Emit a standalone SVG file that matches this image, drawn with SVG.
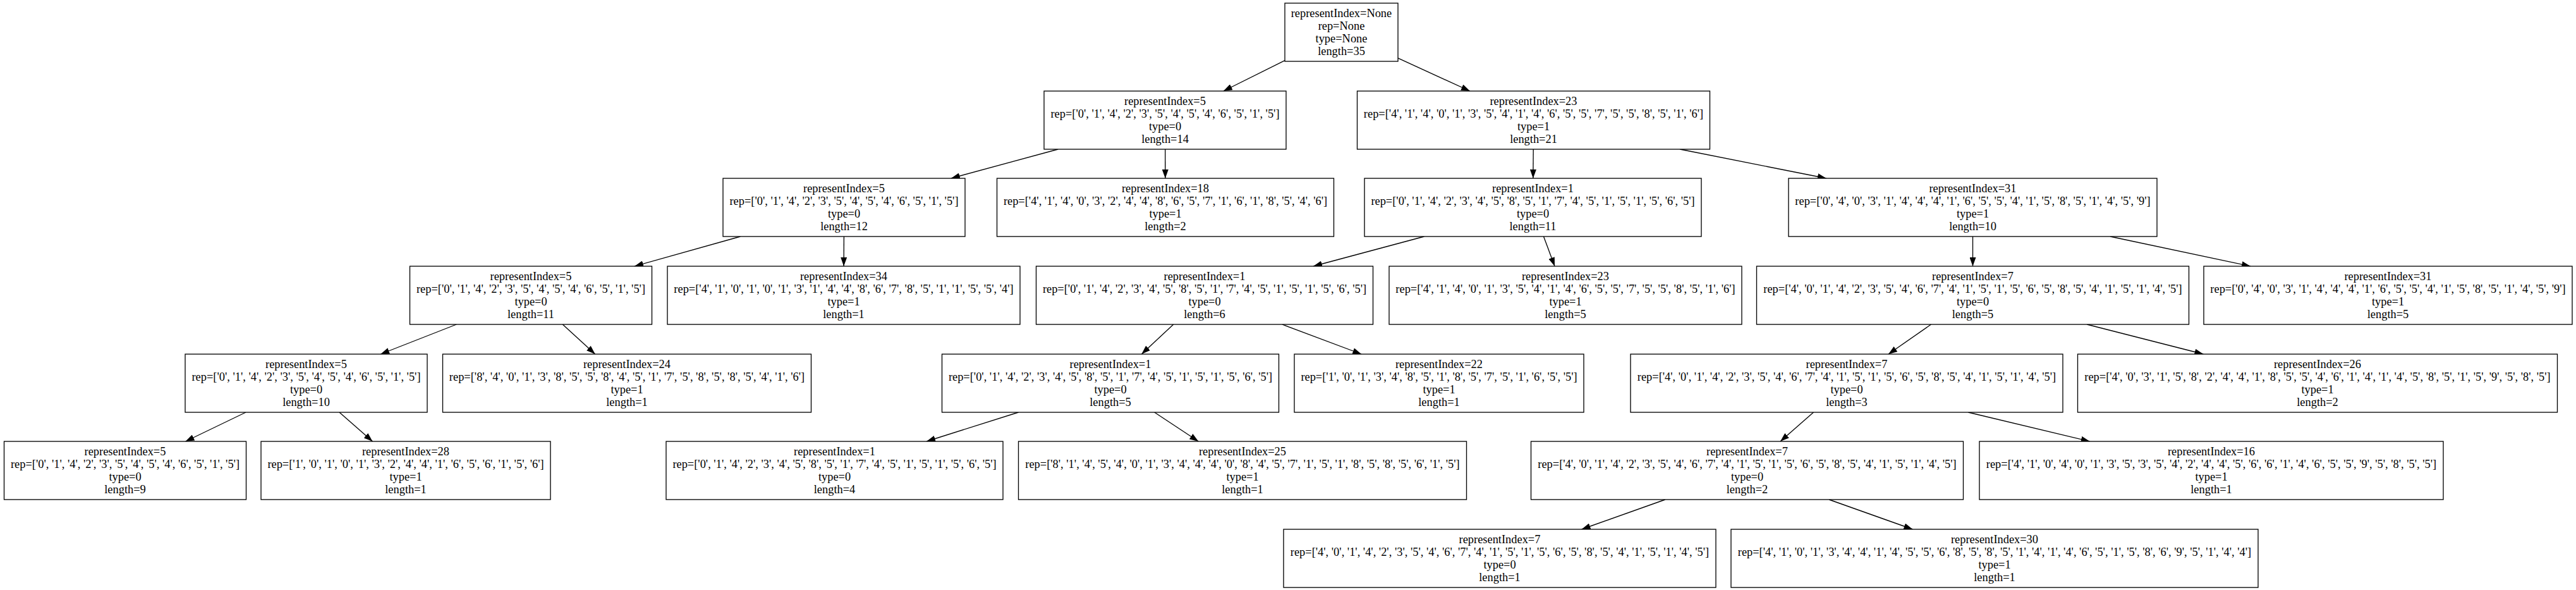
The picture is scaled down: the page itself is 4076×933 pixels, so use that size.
<svg xmlns="http://www.w3.org/2000/svg" width="4076" height="933" viewBox="0 0 4076 933">
<style>
.n rect{fill:#fff;stroke:#000;stroke-width:1.33}
text{font-family:"Liberation Serif","Times New Roman",serif;font-size:18.4px;text-anchor:middle;fill:#000}
.e line{stroke:#000;stroke-width:1.33;marker-end:url(#arr)}
</style>
<defs>
<marker id="arr" viewBox="0 0 14 10" refX="14" refY="5" markerWidth="14" markerHeight="10" markerUnits="userSpaceOnUse" orient="auto"><path d="M0,0 L14,5 L0,10 z" fill="#000"/></marker>
</defs>
<rect x="0" y="0" width="4076" height="933" fill="#fff"/>
<g id="edges" class="e">
<line x1="2033" y1="95.6" x2="1935.8" y2="144"/>
<line x1="2212" y1="91.9" x2="2325.9" y2="144"/>
<line x1="1674.2" y1="236" x2="1504.8" y2="282"/>
<line x1="1843.7" y1="236" x2="1843.8" y2="282"/>
<line x1="2426.2" y1="236" x2="2425.8" y2="282"/>
<line x1="2658.2" y1="236" x2="2889.8" y2="282"/>
<line x1="1171.5" y1="374" x2="1004" y2="421"/>
<line x1="1335.4" y1="374" x2="1335.1" y2="421"/>
<line x1="2253.5" y1="374" x2="2078" y2="421"/>
<line x1="2442.5" y1="374" x2="2460" y2="421"/>
<line x1="3121.5" y1="374" x2="3121.5" y2="421"/>
<line x1="3339" y1="374" x2="3561" y2="421"/>
<line x1="722.3" y1="513" x2="602.2" y2="560"/>
<line x1="890.3" y1="513" x2="941.7" y2="560"/>
<line x1="1856.7" y1="513" x2="1806.3" y2="560"/>
<line x1="2028.8" y1="513" x2="2154.2" y2="560"/>
<line x1="3055.5" y1="513" x2="2988" y2="560"/>
<line x1="3302.1" y1="513" x2="3486.4" y2="560"/>
<line x1="389" y1="652" x2="293.5" y2="698"/>
<line x1="537" y1="652" x2="589.5" y2="698"/>
<line x1="1611.5" y1="652" x2="1466" y2="698"/>
<line x1="1826.7" y1="652" x2="1896.3" y2="698"/>
<line x1="2869.5" y1="652" x2="2817" y2="698"/>
<line x1="3114.3" y1="652" x2="3306.7" y2="698"/>
<line x1="2634.9" y1="790" x2="2502.6" y2="837"/>
<line x1="2894.1" y1="790" x2="3026.4" y2="837"/>
</g>
<g id="n0" class="n"><rect x="2033" y="5" width="179" height="92"/><text x="2122.5" y="26.5">representIndex=None</text><text x="2122.5" y="46.5">rep=None</text><text x="2122.5" y="66.5">type=None</text><text x="2122.5" y="86.5">length=35</text></g>
<g id="n1" class="n"><rect x="1652" y="144" width="383" height="92"/><text x="1843.5" y="165.5">representIndex=5</text><text x="1843.5" y="185.5">rep=['0', '1', '4', '2', '3', '5', '4', '5', '4', '6', '5', '1', '5']</text><text x="1843.5" y="205.5">type=0</text><text x="1843.5" y="225.5">length=14</text></g>
<g id="n2" class="n"><rect x="2147.5" y="144" width="558" height="92"/><text x="2426.5" y="165.5">representIndex=23</text><text x="2426.5" y="185.5">rep=['4', '1', '4', '0', '1', '3', '5', '4', '1', '4', '6', '5', '5', '7', '5', '5', '8', '5', '1', '6']</text><text x="2426.5" y="205.5">type=1</text><text x="2426.5" y="225.5">length=21</text></g>
<g id="n3" class="n"><rect x="1144" y="282" width="383" height="92"/><text x="1335.5" y="303.5">representIndex=5</text><text x="1335.5" y="323.5">rep=['0', '1', '4', '2', '3', '5', '4', '5', '4', '6', '5', '1', '5']</text><text x="1335.5" y="343.5">type=0</text><text x="1335.5" y="363.5">length=12</text></g>
<g id="n4" class="n"><rect x="1577.5" y="282" width="533" height="92"/><text x="1844" y="303.5">representIndex=18</text><text x="1844" y="323.5">rep=['4', '1', '4', '0', '3', '2', '4', '4', '8', '6', '5', '7', '1', '6', '1', '8', '5', '4', '6']</text><text x="1844" y="343.5">type=1</text><text x="1844" y="363.5">length=2</text></g>
<g id="n5" class="n"><rect x="2159" y="282" width="533" height="92"/><text x="2425.5" y="303.5">representIndex=1</text><text x="2425.5" y="323.5">rep=['0', '1', '4', '2', '3', '4', '5', '8', '5', '1', '7', '4', '5', '1', '5', '1', '5', '6', '5']</text><text x="2425.5" y="343.5">type=0</text><text x="2425.5" y="363.5">length=11</text></g>
<g id="n6" class="n"><rect x="2830" y="282" width="583" height="92"/><text x="3121.5" y="303.5">representIndex=31</text><text x="3121.5" y="323.5">rep=['0', '4', '0', '3', '1', '4', '4', '4', '1', '6', '5', '5', '4', '1', '5', '8', '5', '1', '4', '5', '9']</text><text x="3121.5" y="343.5">type=1</text><text x="3121.5" y="363.5">length=10</text></g>
<g id="n7" class="n"><rect x="648.5" y="421" width="383" height="92"/><text x="840" y="442.5">representIndex=5</text><text x="840" y="462.5">rep=['0', '1', '4', '2', '3', '5', '4', '5', '4', '6', '5', '1', '5']</text><text x="840" y="482.5">type=0</text><text x="840" y="502.5">length=11</text></g>
<g id="n8" class="n"><rect x="1056" y="421" width="558" height="92"/><text x="1335" y="442.5">representIndex=34</text><text x="1335" y="462.5">rep=['4', '1', '0', '1', '0', '1', '3', '1', '4', '4', '8', '6', '7', '8', '5', '1', '1', '5', '5', '4']</text><text x="1335" y="482.5">type=1</text><text x="1335" y="502.5">length=1</text></g>
<g id="n9" class="n"><rect x="1639.5" y="421" width="533" height="92"/><text x="1906" y="442.5">representIndex=1</text><text x="1906" y="462.5">rep=['0', '1', '4', '2', '3', '4', '5', '8', '5', '1', '7', '4', '5', '1', '5', '1', '5', '6', '5']</text><text x="1906" y="482.5">type=0</text><text x="1906" y="502.5">length=6</text></g>
<g id="n10" class="n"><rect x="2198" y="421" width="558" height="92"/><text x="2477" y="442.5">representIndex=23</text><text x="2477" y="462.5">rep=['4', '1', '4', '0', '1', '3', '5', '4', '1', '4', '6', '5', '5', '7', '5', '5', '8', '5', '1', '6']</text><text x="2477" y="482.5">type=1</text><text x="2477" y="502.5">length=5</text></g>
<g id="n11" class="n"><rect x="2779.5" y="421" width="684" height="92"/><text x="3121.5" y="442.5">representIndex=7</text><text x="3121.5" y="462.5">rep=['4', '0', '1', '4', '2', '3', '5', '4', '6', '7', '4', '1', '5', '1', '5', '6', '5', '8', '5', '4', '1', '5', '1', '4', '5']</text><text x="3121.5" y="482.5">type=0</text><text x="3121.5" y="502.5">length=5</text></g>
<g id="n12" class="n"><rect x="3487" y="421" width="583" height="92"/><text x="3778.5" y="442.5">representIndex=31</text><text x="3778.5" y="462.5">rep=['0', '4', '0', '3', '1', '4', '4', '4', '1', '6', '5', '5', '4', '1', '5', '8', '5', '1', '4', '5', '9']</text><text x="3778.5" y="482.5">type=1</text><text x="3778.5" y="502.5">length=5</text></g>
<g id="n13" class="n"><rect x="293" y="560" width="383" height="92"/><text x="484.5" y="581.5">representIndex=5</text><text x="484.5" y="601.5">rep=['0', '1', '4', '2', '3', '5', '4', '5', '4', '6', '5', '1', '5']</text><text x="484.5" y="621.5">type=0</text><text x="484.5" y="641.5">length=10</text></g>
<g id="n14" class="n"><rect x="700.5" y="560" width="583" height="92"/><text x="992" y="581.5">representIndex=24</text><text x="992" y="601.5">rep=['8', '4', '0', '1', '3', '8', '5', '5', '8', '4', '5', '1', '7', '5', '8', '5', '8', '5', '4', '1', '6']</text><text x="992" y="621.5">type=1</text><text x="992" y="641.5">length=1</text></g>
<g id="n15" class="n"><rect x="1490.5" y="560" width="533" height="92"/><text x="1757" y="581.5">representIndex=1</text><text x="1757" y="601.5">rep=['0', '1', '4', '2', '3', '4', '5', '8', '5', '1', '7', '4', '5', '1', '5', '1', '5', '6', '5']</text><text x="1757" y="621.5">type=0</text><text x="1757" y="641.5">length=5</text></g>
<g id="n16" class="n"><rect x="2048" y="560" width="458" height="92"/><text x="2277" y="581.5">representIndex=22</text><text x="2277" y="601.5">rep=['1', '0', '1', '3', '4', '8', '5', '1', '8', '5', '7', '5', '1', '6', '5', '5']</text><text x="2277" y="621.5">type=1</text><text x="2277" y="641.5">length=1</text></g>
<g id="n17" class="n"><rect x="2580" y="560" width="684" height="92"/><text x="2922" y="581.5">representIndex=7</text><text x="2922" y="601.5">rep=['4', '0', '1', '4', '2', '3', '5', '4', '6', '7', '4', '1', '5', '1', '5', '6', '5', '8', '5', '4', '1', '5', '1', '4', '5']</text><text x="2922" y="621.5">type=0</text><text x="2922" y="641.5">length=3</text></g>
<g id="n18" class="n"><rect x="3287.5" y="560" width="759" height="92"/><text x="3667" y="581.5">representIndex=26</text><text x="3667" y="601.5">rep=['4', '0', '3', '1', '5', '8', '2', '4', '4', '1', '8', '5', '5', '4', '6', '1', '4', '1', '4', '5', '8', '5', '1', '5', '9', '5', '8', '5']</text><text x="3667" y="621.5">type=1</text><text x="3667" y="641.5">length=2</text></g>
<g id="n19" class="n"><rect x="6.5" y="698" width="383" height="92"/><text x="198" y="719.5">representIndex=5</text><text x="198" y="739.5">rep=['0', '1', '4', '2', '3', '5', '4', '5', '4', '6', '5', '1', '5']</text><text x="198" y="759.5">type=0</text><text x="198" y="779.5">length=9</text></g>
<g id="n20" class="n"><rect x="413" y="698" width="458" height="92"/><text x="642" y="719.5">representIndex=28</text><text x="642" y="739.5">rep=['1', '0', '1', '0', '1', '3', '2', '4', '4', '1', '6', '5', '6', '1', '5', '6']</text><text x="642" y="759.5">type=1</text><text x="642" y="779.5">length=1</text></g>
<g id="n21" class="n"><rect x="1054" y="698" width="533" height="92"/><text x="1320.5" y="719.5">representIndex=1</text><text x="1320.5" y="739.5">rep=['0', '1', '4', '2', '3', '4', '5', '8', '5', '1', '7', '4', '5', '1', '5', '1', '5', '6', '5']</text><text x="1320.5" y="759.5">type=0</text><text x="1320.5" y="779.5">length=4</text></g>
<g id="n22" class="n"><rect x="1611.5" y="698" width="709" height="92"/><text x="1966" y="719.5">representIndex=25</text><text x="1966" y="739.5">rep=['8', '1', '4', '5', '4', '0', '1', '3', '4', '4', '4', '0', '8', '4', '5', '7', '1', '5', '1', '8', '5', '8', '5', '6', '1', '5']</text><text x="1966" y="759.5">type=1</text><text x="1966" y="779.5">length=1</text></g>
<g id="n23" class="n"><rect x="2422.5" y="698" width="684" height="92"/><text x="2764.5" y="719.5">representIndex=7</text><text x="2764.5" y="739.5">rep=['4', '0', '1', '4', '2', '3', '5', '4', '6', '7', '4', '1', '5', '1', '5', '6', '5', '8', '5', '4', '1', '5', '1', '4', '5']</text><text x="2764.5" y="759.5">type=0</text><text x="2764.5" y="779.5">length=2</text></g>
<g id="n24" class="n"><rect x="3132" y="698" width="734" height="92"/><text x="3499" y="719.5">representIndex=16</text><text x="3499" y="739.5">rep=['4', '1', '0', '4', '0', '1', '3', '5', '3', '5', '4', '2', '4', '4', '5', '6', '6', '1', '4', '6', '5', '5', '9', '5', '8', '5', '5']</text><text x="3499" y="759.5">type=1</text><text x="3499" y="779.5">length=1</text></g>
<g id="n25" class="n"><rect x="2031" y="837" width="684" height="92"/><text x="2373" y="858.5">representIndex=7</text><text x="2373" y="878.5">rep=['4', '0', '1', '4', '2', '3', '5', '4', '6', '7', '4', '1', '5', '1', '5', '6', '5', '8', '5', '4', '1', '5', '1', '4', '5']</text><text x="2373" y="898.5">type=0</text><text x="2373" y="918.5">length=1</text></g>
<g id="n26" class="n"><rect x="2739" y="837" width="834" height="92"/><text x="3156" y="858.5">representIndex=30</text><text x="3156" y="878.5">rep=['4', '1', '0', '1', '3', '4', '4', '1', '4', '5', '5', '6', '8', '5', '8', '5', '1', '4', '1', '4', '6', '5', '1', '5', '8', '6', '9', '5', '1', '4', '4']</text><text x="3156" y="898.5">type=1</text><text x="3156" y="918.5">length=1</text></g>
</svg>
